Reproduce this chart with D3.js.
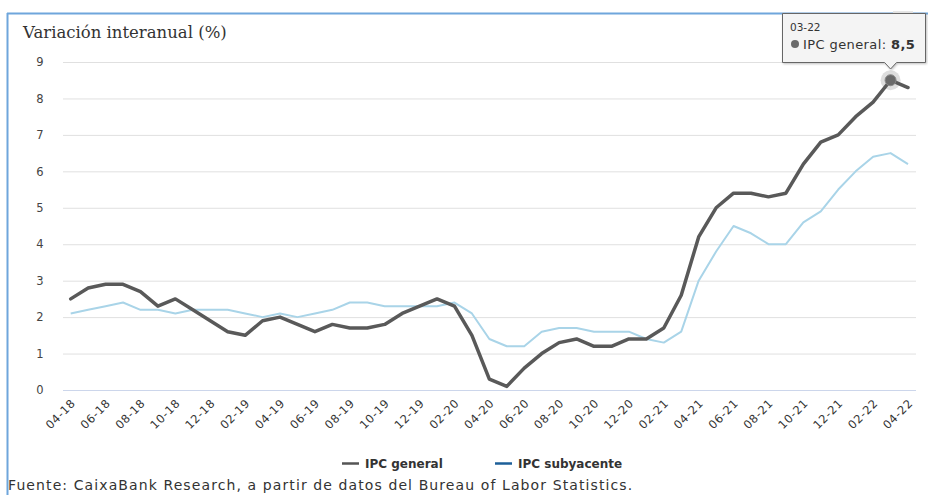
<!DOCTYPE html>
<html>
<head>
<meta charset="utf-8">
<script src="https://cdn.jsdelivr.net/npm/d3@7/dist/d3.min.js"></script>
<style>
  html, body { margin: 0; padding: 0; background: #fff; }
  svg { display: block; }
</style>
</head>
<body>
<svg id="chart" width="928" height="495"></svg>
<script>
// Monthly periods, 04-18 .. 04-22
const months = [
  "04-18","05-18","06-18","07-18","08-18","09-18","10-18","11-18","12-18",
  "01-19","02-19","03-19","04-19","05-19","06-19","07-19","08-19","09-19","10-19","11-19","12-19",
  "01-20","02-20","03-20","04-20","05-20","06-20","07-20","08-20","09-20","10-20","11-20","12-20",
  "01-21","02-21","03-21","04-21","05-21","06-21","07-21","08-21","09-21","10-21","11-21","12-21",
  "01-22","02-22","03-22","04-22"
];

// IPC general, year-on-year %
const ipcGeneral = [
  2.5, 2.8, 2.9, 2.9, 2.7, 2.3, 2.5, 2.2, 1.9,
  1.6, 1.5, 1.9, 2.0, 1.8, 1.6, 1.8, 1.7, 1.7, 1.8, 2.1, 2.3,
  2.5, 2.3, 1.5, 0.3, 0.1, 0.6, 1.0, 1.3, 1.4, 1.2, 1.2, 1.4,
  1.4, 1.7, 2.6, 4.2, 5.0, 5.4, 5.4, 5.3, 5.4, 6.2, 6.8, 7.0,
  7.5, 7.9, 8.5, 8.3
];

// IPC subyacente, year-on-year %
const ipcSubyacente = [
  2.1, 2.2, 2.3, 2.4, 2.2, 2.2, 2.1, 2.2, 2.2,
  2.2, 2.1, 2.0, 2.1, 2.0, 2.1, 2.2, 2.4, 2.4, 2.3, 2.3, 2.3,
  2.3, 2.4, 2.1, 1.4, 1.2, 1.2, 1.6, 1.7, 1.7, 1.6, 1.6, 1.6,
  1.4, 1.3, 1.6, 3.0, 3.8, 4.5, 4.3, 4.0, 4.0, 4.6, 4.9, 5.5,
  6.0, 6.4, 6.5, 6.2
];

const yTicks = [0, 1, 2, 3, 4, 5, 6, 7, 8, 9];
const highlightIndex = months.indexOf("03-22");

const svg = d3.select("#chart");
const W = 928, H = 495;

const plot = { left: 63, right: 916, top: 62, bottom: 390 };

const x = d3.scaleLinear().domain([0, months.length - 1]).range([70.7, 908]);
const y = d3.scaleLinear().domain([0, 9]).range([plot.bottom, plot.top]);

// Frame
svg.append("line").attr("x1", 7).attr("x2", W).attr("y1", 13.5).attr("y2", 13.5)
  .attr("stroke", "#6fa6dc").attr("stroke-width", 2);
svg.append("line").attr("x1", 7.5).attr("x2", 7.5).attr("y1", 13).attr("y2", H)
  .attr("stroke", "#6fa6dc").attr("stroke-width", 2);

// Title
svg.append("text").attr("x", 23).attr("y", 38)
  .attr("font-family", "'DejaVu Serif', 'Liberation Serif', serif")
  .attr("font-size", 16.5).attr("fill", "#333")
  .text("Variación interanual (%)");

// Grid + y labels
const yAxis = d3.axisLeft(y).tickValues(yTicks).tickSize(-(plot.right - plot.left)).tickPadding(13)
  .tickFormat(d3.format("d"));
const gy = svg.append("g").attr("transform", `translate(${plot.left},0)`).call(yAxis);
gy.select(".domain").remove();
gy.selectAll(".tick line").attr("stroke", "#e0e0e0").attr("stroke-width", 1);
gy.selectAll(".tick text").attr("font-family", "'DejaVu Sans', sans-serif").attr("font-size", 11.5)
  .attr("fill", "#444").attr("text-anchor", "middle").attr("x", -23);

// X axis baseline and labels
const labelIdx = d3.range(0, months.length, 2);
const xAxis = d3.axisBottom(x).tickValues(labelIdx).tickSize(0).tickFormat(i => months[i]);
const gx = svg.append("g").attr("transform", `translate(0,${plot.bottom})`).call(xAxis);
gx.select(".domain").remove();
gx.selectAll(".tick text")
  .attr("font-family", "'DejaVu Sans', sans-serif").attr("font-size", 11.5).attr("fill", "#333")
  .attr("letter-spacing", 0.6)
  .attr("text-anchor", "end").attr("dy", 0).attr("y", 0)
  .attr("transform", "translate(5,14) rotate(-45)");
svg.append("line").attr("x1", plot.left).attr("x2", plot.right)
  .attr("y1", plot.bottom + 0.5).attr("y2", plot.bottom + 0.5)
  .attr("stroke", "#ccd6eb").attr("stroke-width", 1);

// Series
const line = d3.line().x((d, i) => x(i)).y(d => y(d));
svg.append("path").datum(ipcSubyacente).attr("d", line)
  .attr("fill", "none").attr("stroke", "#a9d4e8").attr("stroke-width", 2)
  .attr("stroke-linejoin", "round");
svg.append("path").datum(ipcGeneral).attr("d", line)
  .attr("fill", "none").attr("stroke", "#595959").attr("stroke-width", 3.5)
  .attr("stroke-linejoin", "round").attr("stroke-linecap", "round");

// Hovered point
const hx = x(highlightIndex), hy = y(ipcGeneral[highlightIndex]);
svg.append("circle").attr("cx", hx).attr("cy", hy).attr("r", 10)
  .attr("fill", "#595959").attr("fill-opacity", 0.2);
svg.append("circle").attr("cx", hx).attr("cy", hy).attr("r", 5.5)
  .attr("fill", "#6a6a6a").attr("stroke", "#8a8a8a").attr("stroke-width", 1);

// Tooltip
const tip = svg.append("g");
const tl = 782, tr = 926, tt = 13, tb = 63;
tip.append("rect").attr("x", 893).attr("y", 11).attr("width", 20).attr("height", 4).attr("fill", "#e6e6e6");
tip.append("path")
  .attr("d", `M${tl + 0.5},${tt + 0.5} H${tr - 0.5} V${tb - 0.5} H${hx + 6} L${hx},${tb + 6} L${hx - 6},${tb - 0.5} H${tl + 0.5} Z`)
  .attr("fill", "#f7f7f7").attr("fill-opacity", 0.95)
  .attr("stroke", "#666").attr("stroke-width", 1)
  .style("filter", "drop-shadow(1px 1px 1px rgba(0,0,0,0.25))");
tip.append("text").attr("x", 790).attr("y", 31)
  .attr("font-family", "'DejaVu Sans', sans-serif").attr("font-size", 10.5).attr("fill", "#333")
  .text(months[highlightIndex]);
tip.append("circle").attr("cx", 795).attr("cy", 44).attr("r", 4).attr("fill", "#6a6a6a");
const tt2 = tip.append("text").attr("x", 803).attr("y", 48.5)
  .attr("font-family", "'DejaVu Sans', sans-serif").attr("font-size", 13).attr("fill", "#333")
  .attr("letter-spacing", 0.4);
tt2.append("tspan").text("IPC general: ");
tt2.append("tspan").attr("font-weight", "bold")
  .text(d3.format(".1f")(ipcGeneral[highlightIndex]).replace(".", ","));

// Legend
const legend = [
  { name: "IPC general", color: "#555555", x: 342 },
  { name: "IPC subyacente", color: "#1d5f99", x: 495 }
];
const lg = svg.append("g");
legend.forEach(d => {
  lg.append("line").attr("x1", d.x).attr("x2", d.x + 17).attr("y1", 463.5).attr("y2", 463.5)
    .attr("stroke", d.color).attr("stroke-width", 2.5);
  lg.append("text").attr("x", d.x + 23).attr("y", 468)
    .attr("font-family", "'DejaVu Sans', sans-serif").attr("font-size", 12).attr("font-weight", "bold")
    .attr("fill", "#333").text(d.name);
});

// Source
svg.append("text").attr("x", 8).attr("y", 490)
  .attr("font-family", "'DejaVu Sans', sans-serif").attr("font-size", 14).attr("fill", "#333")
  .attr("letter-spacing", 1.1)
  .text("Fuente: CaixaBank Research, a partir de datos del Bureau of Labor Statistics.");
</script>
</body>
</html>
